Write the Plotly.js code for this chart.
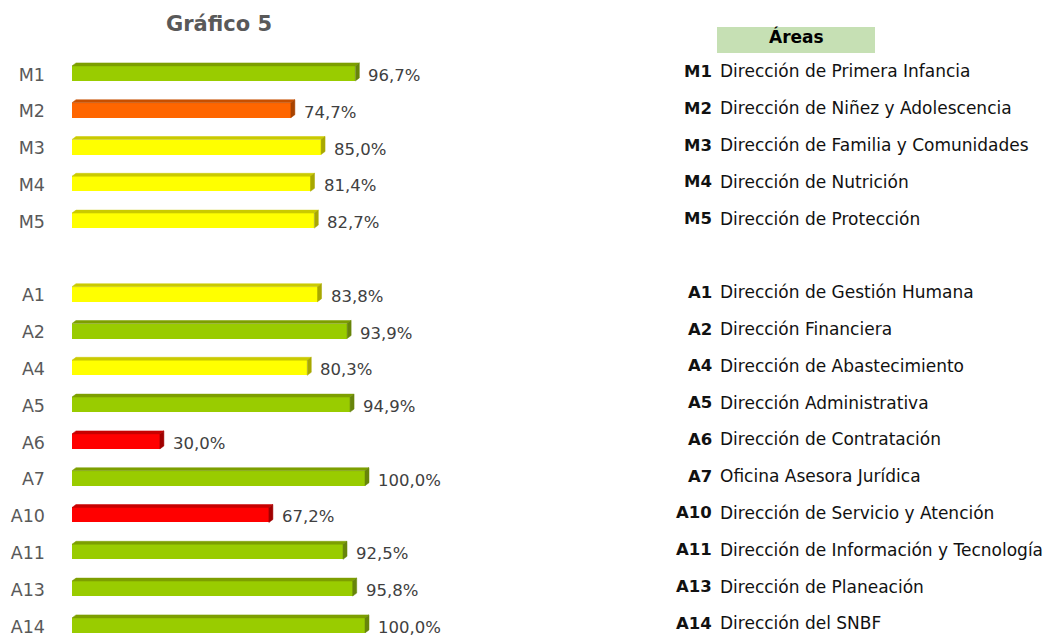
<!DOCTYPE html>
<html><head><meta charset="utf-8">
<script src="https://cdn.plot.ly/plotly-3.0.1.min.js"></script>
<style>html,body{margin:0;padding:0;background:#fff}#chart{width:1053px;height:639px}</style>
</head><body><div id="chart"></div>
<script>
// ---- data ----
const mCodes = ["M1", "M2", "M3", "M4", "M5"];
const mValues = [96.7, 74.7, 85.0, 81.4, 82.7];
const mNames = ["Dirección de Primera Infancia", "Dirección de Niñez y Adolescencia",
  "Dirección de Familia y Comunidades", "Dirección de Nutrición", "Dirección de Protección"];

const aCodes = ["A1", "A2", "A4", "A5", "A6", "A7", "A10", "A11", "A13", "A14"];
const aValues = [83.8, 93.9, 80.3, 94.9, 30.0, 100.0, 67.2, 92.5, 95.8, 100.0];
const aNames = ["Dirección de Gestión Humana", "Dirección Financiera", "Dirección de Abastecimiento",
  "Dirección Administrativa", "Dirección de Contratación", "Oficina Asesora Jurídica",
  "Dirección de Servicio y Atención", "Dirección de Información y Tecnología",
  "Dirección de Planeación", "Dirección del SNBF"];

const chartTitle = "Gráfico 5";
const legendTitle = "Áreas";

// ---- derived ----
const codes = mCodes.concat(aCodes);
const values = mValues.concat(aValues);
const names = mNames.concat(aNames);
// one empty row separates the two groups
const rows = codes.map((c, i) => i < mCodes.length ? i : i + 1);

function palette(v) {
  if (v >= 90) return {front: "#99CC00", top: "#7D9F00", side: "#67850A"};
  if (v >= 80) return {front: "#FFFF00", top: "#CACA00", side: "#A8A800"};
  if (v >= 70) return {front: "#FF6600", top: "#C85000", side: "#A84300"};
  return {front: "#FF0000", top: "#C80000", side: "#A00000"};
}

const FONT = "DejaVu Sans";
const pxPerUnitX = 2.93, pxPerRow = 36.8;
const barW = 15 / pxPerRow;          // front face thickness (rows)
const dx = 4 / pxPerUnitX;           // depth offset in x units
const dy = 3 / pxPerRow;             // depth offset in row units

const traces = [];
values.forEach((v, i) => {
  const y = rows[i], c = palette(v);
  const yt = y - barW / 2, yb = y + barW / 2;
  traces.push({type: "scatter", mode: "lines", fill: "toself", fillcolor: c.top,
    line: {width: 0.5, color: c.top}, hoverinfo: "skip", showlegend: false,
    x: [0, v, v + dx, dx, 0], y: [yt, yt, yt - dy, yt - dy, yt]});
  traces.push({type: "scatter", mode: "lines", fill: "toself", fillcolor: c.side,
    line: {width: 0.5, color: c.side}, hoverinfo: "skip", showlegend: false,
    x: [v, v + dx, v + dx, v, v], y: [yt, yt - dy, yb - dy, yb, yt]});
});
traces.push({type: "bar", orientation: "h", x: values, y: rows, width: barW,
  marker: {color: values.map(v => palette(v).front), line: {width: 0}},
  hovertemplate: "%{x:.1f}%<extra></extra>", showlegend: false});

const annotations = [];
values.forEach((v, i) => {
  annotations.push({xref: "x", yref: "y", x: v, y: rows[i], xanchor: "left", yanchor: "middle",
    xshift: 11, yshift: -2, text: v.toFixed(1).replace(".", ",") + "%", showarrow: false,
    font: {family: FONT, size: 16.5, color: "#404040"}});
  annotations.push({xref: "paper", yref: "y", x: 714 / 1053, y: rows[i], xanchor: "right", yanchor: "middle",
    yshift: 2, text: "<b>" + codes[i] + "</b>", showarrow: false,
    font: {family: FONT, size: 16.5, color: "#111111"}});
  annotations.push({xref: "paper", yref: "y", x: 718 / 1053, y: rows[i], xanchor: "left", yanchor: "middle",
    yshift: 2, text: names[i], showarrow: false,
    font: {family: FONT, size: 17, color: "#111111"}});
});
annotations.push({xref: "paper", yref: "paper", x: 796 / 1053, y: 1 - 37 / 639, xanchor: "center", yanchor: "middle",
  text: "<b>" + legendTitle + "</b>", showarrow: false,
  font: {family: FONT, size: 17, color: "#000000"}});

const layout = {
  width: 1053, height: 639,
  margin: {l: 0, r: 0, t: 0, b: 0},
  paper_bgcolor: "#ffffff", plot_bgcolor: "rgba(0,0,0,0)",
  separators: ",.",
  title: {text: "<b>" + chartTitle + "</b>", x: 219 / 1053, xanchor: "center", xref: "paper",
    y: 1 - 24 / 639, yref: "container", yanchor: "middle",
    font: {family: FONT, size: 21, color: "#595959"}},
  xaxis: {range: [0, 130], domain: [72 / 1053, (72 + 130 * pxPerUnitX) / 1053],
    showgrid: false, zeroline: false, showline: false, showticklabels: false, ticks: ""},
  yaxis: {range: [15.37, -1.995], domain: [0, 1], showgrid: false, zeroline: false, showline: false,
    tickmode: "array", tickvals: rows, ticktext: codes, ticks: "",
    ticklabelstandoff: 26, ticklabelshift: -1, ticklabeloverflow: "allow",
    tickfont: {family: FONT, size: 17.5, color: "#595959"}},
  shapes: [{type: "rect", xref: "paper", yref: "paper", x0: 717 / 1053, x1: 875 / 1053,
    y0: 1 - 53 / 639, y1: 1 - 27 / 639, fillcolor: "#C6E0B4", line: {width: 0}, layer: "below"}],
  annotations: annotations,
  showlegend: false, bargap: 0
};

Plotly.newPlot("chart", traces, layout, {displayModeBar: false, responsive: false});
</script></body></html>
